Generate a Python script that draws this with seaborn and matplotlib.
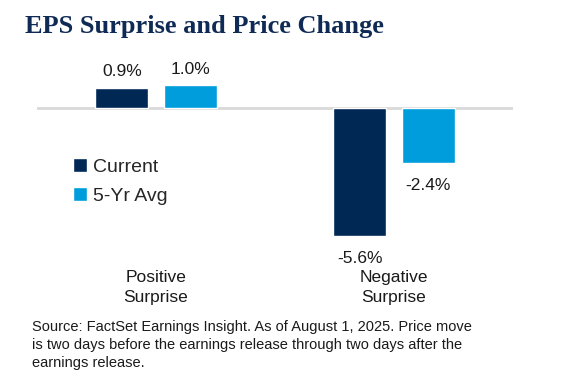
import pandas as pd
import matplotlib
matplotlib.use("Agg")
import matplotlib.pyplot as plt
import seaborn as sns

# values
categories = ["Positive\nSurprise", "Negative\nSurprise"]
series = ["Current", "5-Yr Avg"]
current = [0.9, -5.6]
five_yr = [1.0, -2.4]
colors = ["#002855", "#009ddc"]

title = "EPS Surprise and Price Change"
note = ("Source: FactSet Earnings Insight. As of August 1, 2025. Price move\n"
        "is two days before the earnings release through two days after the\n"
        "earnings release.")

df = pd.DataFrame({
    "category": categories * 2,
    "series": [series[0]] * 2 + [series[1]] * 2,
    "value": current + five_yr,
})

sns.set_style("white")
plt.rcParams["font.family"] = ["Liberation Sans", "DejaVu Sans"]

fig = plt.figure(figsize=(5.62, 3.83), dpi=100)
ax = fig.add_axes([37 / 562, 0.331, 476 / 562, 0.506])

sns.barplot(data=df, x="category", y="value", hue="series", order=categories,
            hue_order=series, palette=colors, width=0.574, gap=0.22,
            saturation=1, ax=ax)

ax.set_xlim(-0.5, 1.5)
ax.set_ylim(-6.5, 2.0)
ax.axhline(0, color="#d9d9d9", lw=2, zorder=0)
for s in ax.spines.values():
    s.set_visible(False)
ax.set_yticks([])
ax.set_xlabel("")
ax.set_ylabel("")
ax.tick_params(axis="x", length=0, pad=10, labelsize=12.5, colors="#1a1a1a")
for lbl in ax.get_xticklabels():
    lbl.set_linespacing(1.4)

for cont in ax.containers:
    vals = cont.datavalues
    ax.bar_label(cont, labels=[f"{v:.1f}%" if v > 0 else "" for v in vals],
                 padding=6, fontsize=12.5, color="#1a1a1a")
    ax.bar_label(cont, labels=[f"{v:.1f}%" if v < 0 else "" for v in vals],
                 padding=11, fontsize=12.5, color="#1a1a1a")

ax.legend(loc="upper left", bbox_to_anchor=(0.06, 0.545), frameon=False,
          fontsize=14, handlelength=0.7, handleheight=0.7, handletextpad=0.3,
          labelspacing=0.58, borderaxespad=0)

fig.text(25 / 562, 1 - 33 / 383, title, family="Liberation Serif",
         weight="bold", fontsize=19, color="#0f2b55", va="baseline")
fig.text(32 / 562, 1 - 320 / 383, note, fontsize=10.5, color="#1a1a1a",
         va="top", linespacing=1.36)

fig.savefig("out.png", dpi=100)
